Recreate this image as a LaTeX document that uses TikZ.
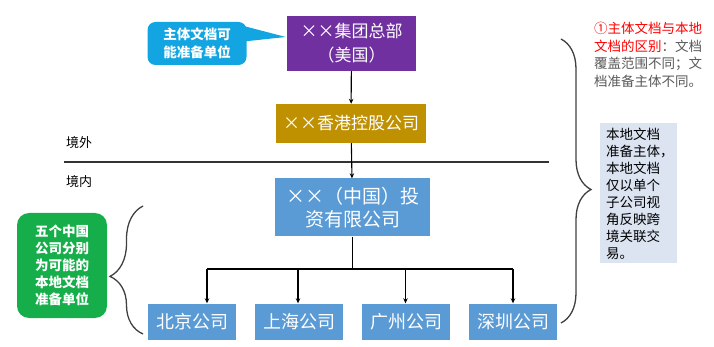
\documentclass[tikz,border=0pt]{standalone}
\usepackage{fontspec}
\setmainfont{Noto Sans CJK SC}
\usetikzlibrary{positioning,calc,arrows.meta}
\usetikzlibrary{decorations.pathreplacing}
\definecolor{hqpurple}{HTML}{7030A0}
\definecolor{hkgold}{HTML}{BF9000}
\definecolor{cnblue}{HTML}{5B9BD5}
\definecolor{notecyan}{HTML}{12A5E2}
\definecolor{notegreen}{HTML}{16AE4A}
\definecolor{sidefill}{HTML}{DCE4F2}
\definecolor{txtgray}{HTML}{595959}
\tikzset{
  box/.style={fill=#1,text=white,inner sep=0pt,align=center},
  sub/.style={box=cnblue,minimum width=88pt,minimum height=36pt,font=\fontsize{18}{20}\selectfont},
  arr/.style={draw=black,line width=1.1pt,-{Stealth[length=5pt,width=4.5pt]}},
  bus/.style={draw=black,line width=1.1pt},
  curly/.style={draw=black!75,line width=1.3pt,decorate,decoration={brace,amplitude=#1}}
}
\begin{document}
\begin{tikzpicture}[x=1pt,y=-1pt]
\useasboundingbox (0,0) rectangle (714,347);

\draw(351.5,43.5) node (hq) [box=hqpurple,minimum width=129pt,minimum height=55pt,font=\fontsize{17}{24}\selectfont] {××集团总部\\（美国）};
\draw(351,123.5) node (hk) [box=hkgold,minimum width=150pt,minimum height=39pt,font=\fontsize{17}{20}\selectfont] {××香港控股公司};
\draw(352.5,207.5) node (cn) [box=cnblue,minimum width=155pt,minimum height=58pt,font=\fontsize{19}{23}\selectfont] {××（中国）投\\资有限公司};

\draw(192,321.5) node (bj) [sub] {北京公司};
\draw(299,321.5) node (sh) [sub] {上海公司};
\draw(406,321.5) node (gz) [sub] {广州公司};
\draw(513,321.5) node (sz) [sub] {深圳公司};

\draw(197,43.5) node (note) [box=notecyan,rounded corners=8pt,minimum width=99pt,minimum height=43pt,font=\bfseries\fontsize{13.5}{18}\selectfont] {主体文档可\\能准备单位};
\fill[notecyan] ($(note.east)+(-3,-17.5)$) -- ($(hq.west)+(-1,-6.5)$) -- ($(note.east)+(-3,-2)$) -- cycle;

\draw(62,265.5) node (five) [box=notegreen,rounded corners=12pt,minimum width=90pt,minimum height=105pt,font=\bfseries\fontsize{13.5}{17}\selectfont] {五个中国\\公司分别\\为可能的\\本地文档\\准备单位};

\draw(79,143) node (out) [font=\fontsize{13}{15}\selectfont] {境外};
\draw(79,182) node (in) [font=\fontsize{13}{15}\selectfont] {境内};
\coordinate (ll) at (64,162);
\coordinate (lr) at (549,162);
\draw[draw=black!80,line width=1.2pt] (ll) -- (lr);

\draw[arr] (hq) -- (hk);
\draw[arr] (hk) -- (cn);
\coordinate (bus) at (352.5,269);
\coordinate (tbj) at (207,269);
\coordinate (tsh) at (298,269);
\coordinate (tgz) at (405.5,269);
\coordinate (tsz) at (513,269);
\draw[bus] (cn.south) -- (bus);
\draw[bus] (tbj) -- (tsz);
\draw[arr] (tbj) -- (tbj |- bj.north);
\draw[arr] (tsh) -- (tsh |- sh.north);
\draw[arr] (tgz) -- (tgz |- gz.north);
\draw[arr] (tsz) -- (tsz |- sz.north);

\coordinate (lb1) at (143,334);
\coordinate (lb2) at (143,206);
\draw[curly=33pt,decoration={aspect=0.45}] (lb1) -- (lb2);
\coordinate (rb1) at (561,39);
\coordinate (rb2) at (561,323);
\draw[curly=30pt,decoration={aspect=0.53}] (rb1) -- (rb2);

\draw(594,22) node (diff) [anchor=north west,inner sep=0pt,align=left,text=txtgray,font=\fontsize{13.5}{17.5}\selectfont] {\textcolor{red}{①主体文档与本地}\\\textcolor{red}{文档的区别}：文档\\覆盖范围不同；文\\档准备主体不同。};

\draw(638.5,193) node (side) [fill=sidefill,minimum width=77pt,minimum height=140pt,inner sep=0pt] {};
\draw(side.north west) node (sidetxt) [anchor=north west,xshift=6pt,yshift=-5pt,inner sep=0pt,align=left,font=\fontsize{13.5}{17}\selectfont] {本地文档\\准备主体，\\本地文档\\仅以单个\\子公司视\\角反映跨\\境关联交\\易。};
\end{tikzpicture}
\end{document}
